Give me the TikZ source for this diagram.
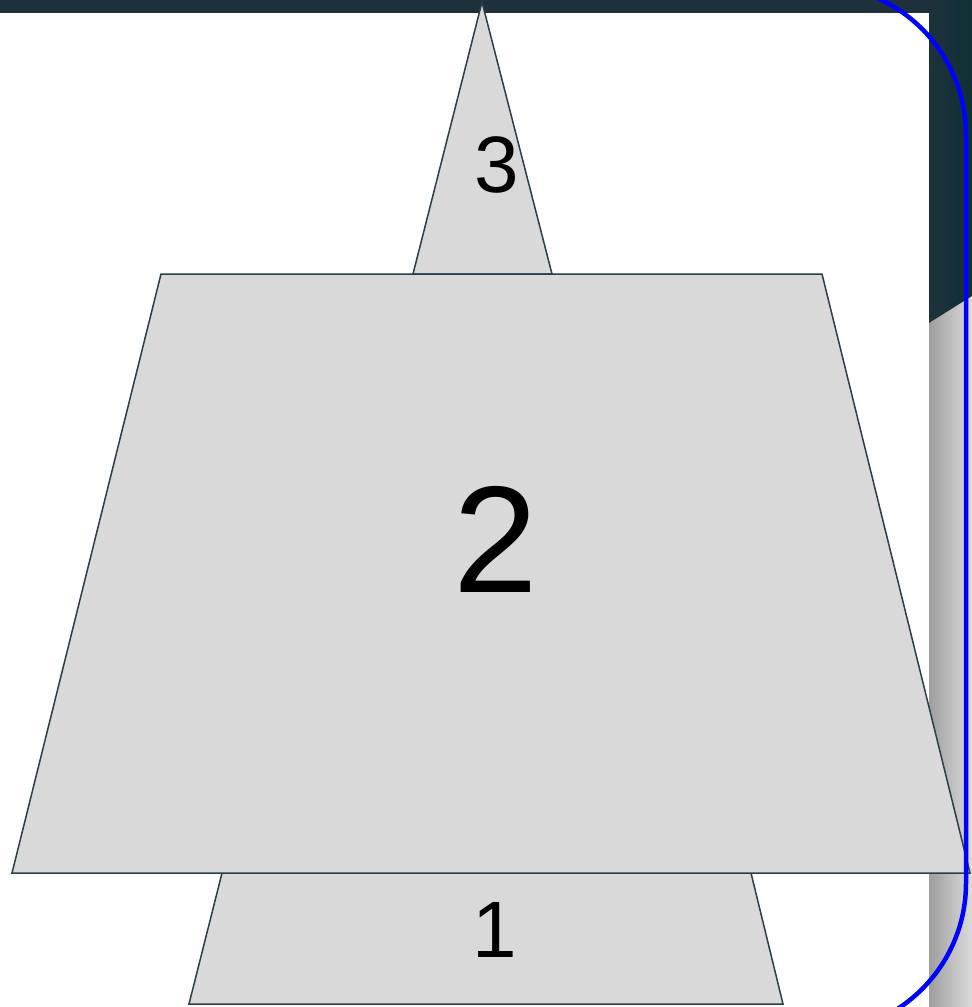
\documentclass[tikz,border=0pt]{standalone}
\usepackage{fontspec}
\setmainfont{Liberation Sans}
\definecolor{slateDark}{RGB}{30,49,59}
\definecolor{slateEdge}{RGB}{42,62,72}
\definecolor{pieceGray}{RGB}{217,217,217}
\usetikzlibrary{positioning}

\begin{document}
\begin{tikzpicture}[x=1pt, y=-1pt,
  piece/.style={fill=pieceGray, draw=slateEdge, line width=1.5pt, line join=miter},
  lbl/.style={anchor=base, inner sep=0pt}]
  \useasboundingbox (0,0) rectangle (972,1007);
  \clip (0,0) rectangle (972,1007);
  % backdrop
  \fill[slateDark] (0,0) rectangle (972,12.5);
  \shade[left color=black!38, right color=black!14]
    (929,323) -- (972,296) -- (972,1007) -- (929,1007) -- cycle;
  \shade[left color=slateDark, right color=slateDark!85!cyan!60!black]
    (929,0) -- (972,0) -- (972,296) -- (929,323) -- cycle;
  % pieces, bottom one first
  \draw[piece] (222,873) -- (751,873) -- (783,1004) -- (189,1004) -- cycle;
  \draw[piece] (413,274) -- (482,2) -- (552,274) -- cycle;
  \draw[piece] (161,274) -- (822,274) -- (970,873) -- (12,873) -- cycle;
  \node[lbl, font=\fontsize{80}{80}\selectfont] (top) at (497,192) {3};
  \node[lbl, font=\fontsize{152}{152}\selectfont] (mid) at (496,592) {2};
  \node[lbl, font=\fontsize{80}{80}\selectfont] (low) at (495,957) {1};
  % frame
  \draw[blue, line width=4.5pt, rounded corners=150pt] (-300,-15) rectangle (966,1033);
\end{tikzpicture}
\end{document}
